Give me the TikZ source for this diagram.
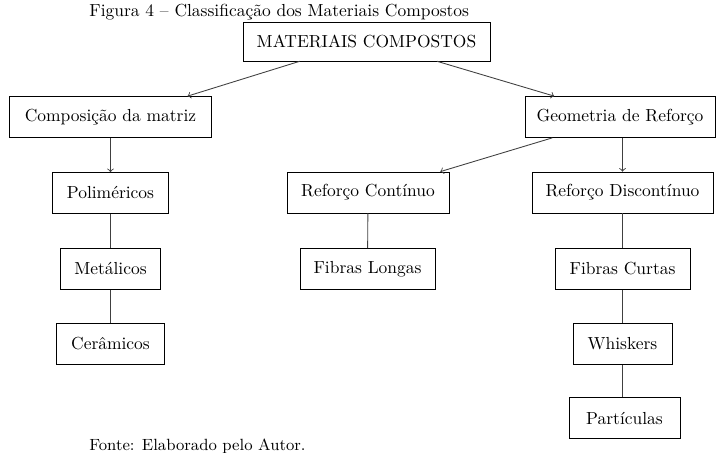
\documentclass[tikz,border=0pt]{standalone}
\usetikzlibrary{calc}
\begin{document}
\begin{tikzpicture}[x=0.5727pt,y=-0.5727pt,
  box/.style={draw, inner sep=0pt, minimum height=23.5pt},
  conn/.style={draw=black!75, line width=0.5pt},
  arr/.style={conn,->},
  plain/.style={inner sep=0pt}]
\useasboundingbox (0,0) rectangle (720,453);
\node[plain,anchor=base west] (title) at (89,16.5) {Figura 4 -- Classificação dos Materiais Compostos};
\node[box,minimum width=141.5pt,minimum height=22.3pt] (mc) at (366.5,41.5) {MATERIAIS COMPOSTOS};
\node[box,minimum width=115.7pt] (cm) at (110.5,117) {Composição da matriz};
\node[box,minimum width=108.8pt] (gr) at (620,117) {Geometria de Reforço};
\node[box,minimum width=66.4pt] (pol) at (110.5,193) {Poliméricos};
\node[box,minimum width=92.8pt] (rc) at (368,192.5) {Reforço Contínuo};
\node[box,minimum width=103.6pt] (rd) at (622.5,192.5) {Reforço Discontínuo};
\node[box,minimum width=77.3pt] (fc) at (622.5,269) {Fibras Curtas};
\node[box,minimum width=57.3pt] (met) at (110.5,269) {Metálicos};
\node[box,minimum width=77.3pt] (fl) at (367.5,269) {Fibras Longas};
\node[box,minimum width=61.9pt] (cer) at (110.5,344) {Cerâmicos};
\node[box,minimum width=56.7pt] (wh) at (622.5,344) {Whiskers};
\node[box,minimum width=63.6pt] (par) at (624.5,418) {Partículas};
\node[plain,anchor=base west,font=\fontsize{9.3pt}{11pt}\selectfont] (fonte) at (89,450) {Fonte: Elaborado pelo Autor.};
\coordinate (grd) at (gr.south -| rd.north);
\draw[arr] ($(mc.south west)!0.23!(mc.south east)$) -- ($(cm.north west)!0.88!(cm.north east)$);
\draw[arr] ($(mc.south west)!0.785!(mc.south east)$) -- ($(gr.north west)!0.155!(gr.north east)$);
\draw[arr] (cm.south) -- (pol.north);
\draw[arr] ($(gr.south west)!0.145!(gr.south east)$) -- ($(rc.north west)!0.944!(rc.north east)$);
\draw[arr] (grd) -- (rd.north);
\draw[conn] (pol) -- (met);
\draw[conn] (met) -- (cer);
\draw[conn] (rc) -- (fl);
\draw[conn] (rd.south) -- (rd.south |- fc.north);
\draw[conn] (fc) -- (wh);
\draw[conn] (wh.south) -- (wh.south |- par.north);
\end{tikzpicture}
\end{document}
